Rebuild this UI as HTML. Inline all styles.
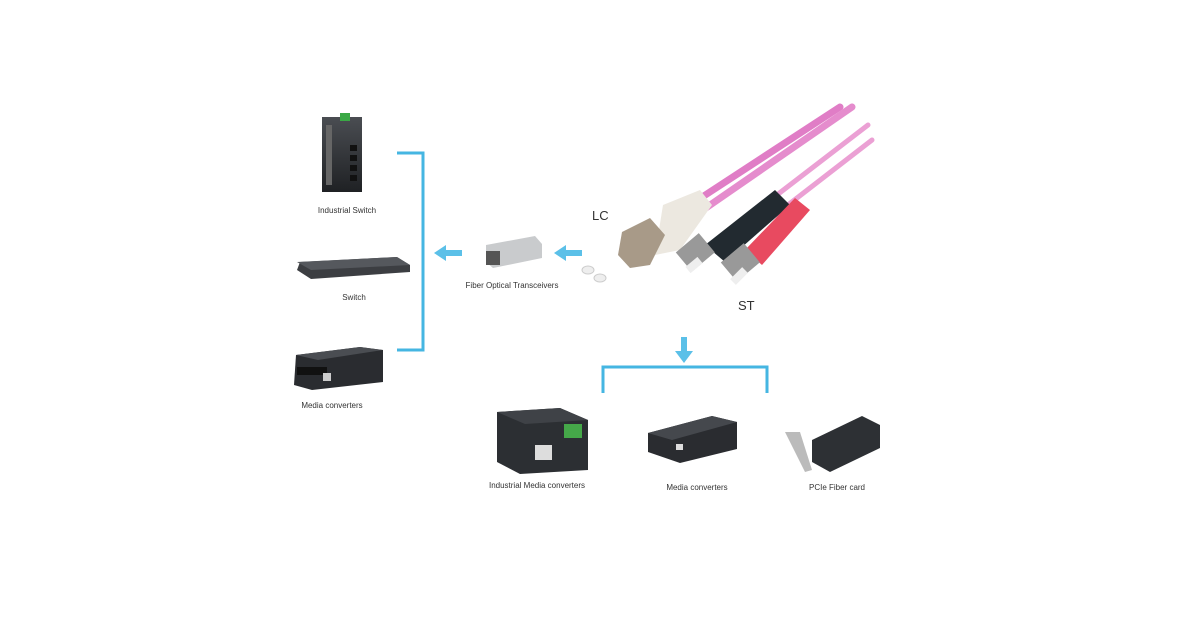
<!DOCTYPE html>
<html><head><meta charset="utf-8"><style>
html,body{margin:0;padding:0;background:#fff;width:1200px;height:630px;overflow:hidden}
svg text{font-family:"Liberation Sans",sans-serif;fill:#333}
</style></head><body>
<svg width="1200" height="630" viewBox="0 0 1200 630" xmlns="http://www.w3.org/2000/svg">
<defs>
<linearGradient id="dk" x1="0" y1="0" x2="0" y2="1"><stop offset="0" stop-color="#4a4d52"/><stop offset="1" stop-color="#1f2124"/></linearGradient>
</defs>
<!-- brackets -->
<g stroke="#45b6e2" stroke-width="3" fill="none">
<polyline points="397,153 423,153 423,350 397,350"/>
<polyline points="603,393 603,367 767,367 767,393"/>
</g>
<!-- arrows -->
<g fill="#5bc0e8">
<polygon points="434,253 446,245 446,250 462,250 462,256 446,256 446,261"/>
<polygon points="554,253 566,245 566,250 582,250 582,256 566,256 566,261"/>
<polygon points="684,363 675,351 681,351 681,337 687,337 687,351 693,351"/>
</g>
<!-- industrial switch -->
<rect x="322" y="117" width="40" height="75" fill="url(#dk)"/>
<rect x="340" y="113" width="10" height="8" fill="#3aa845"/>
<rect x="326" y="125" width="6" height="60" fill="#666"/>
<g fill="#111"><rect x="350" y="145" width="7" height="6"/><rect x="350" y="155" width="7" height="6"/><rect x="350" y="165" width="7" height="6"/><rect x="350" y="175" width="7" height="6"/></g>
<text x="347" y="213" font-size="8" text-anchor="middle">Industrial Switch</text>
<!-- switch -->
<polygon points="300,262 397,257 410,265 410,272 311,279 297,270" fill="#3c3e42"/>
<polygon points="297,262 397,257 410,265 311,270" fill="#55585d"/>
<text x="354" y="300" font-size="8" text-anchor="middle">Switch</text>
<!-- media converter left -->
<polygon points="296,355 360,347 383,350 383,382 312,390 294,385" fill="#2a2c30"/>
<polygon points="296,355 360,347 383,350 318,360" fill="#4a4d52"/>
<rect x="297" y="367" width="30" height="8" fill="#111"/><rect x="323" y="373" width="8" height="8" fill="#ccc"/>
<text x="332" y="408" font-size="8" text-anchor="middle">Media converters</text>
<!-- SFP -->
<polygon points="486,245 535,236 542,244 542,258 493,268 486,262" fill="#c9cbcd"/>
<rect x="486" y="251" width="14" height="14" fill="#555"/>
<text x="512" y="288" font-size="8" text-anchor="middle">Fiber Optical Transceivers</text>
<!-- cables -->
<g stroke-linecap="round" fill="none">
<line x1="690" y1="205" x2="840" y2="107" stroke="#e07dc6" stroke-width="7"/>
<line x1="700" y1="212" x2="852" y2="107" stroke="#e58ccd" stroke-width="7"/>
<line x1="760" y1="208" x2="868" y2="125" stroke="#eba0d4" stroke-width="5"/>
<line x1="775" y1="215" x2="872" y2="140" stroke="#eba0d4" stroke-width="5"/>
</g>
<!-- LC -->
<polygon points="663,205 700,190 712,205 680,250 655,255" fill="#ece8e0"/>
<polygon points="622,232 650,218 665,235 650,265 630,268 618,255" fill="#a89a88"/>
<ellipse cx="588" cy="270" rx="6" ry="4" fill="#eee" stroke="#ccc"/>
<ellipse cx="600" cy="278" rx="6" ry="4" fill="#eee" stroke="#ccc"/>
<text x="592" y="220" font-size="13">LC</text>
<!-- ST -->
<polygon points="705,245 775,190 790,205 725,262" fill="#222a30"/>
<polygon points="745,250 795,198 810,210 762,265" fill="#e84a60"/>
<rect x="680" y="240" width="30" height="25" fill="#999" transform="rotate(-40 695 252)"/>
<rect x="725" y="250" width="30" height="25" fill="#999" transform="rotate(-40 740 262)"/>
<line x1="688" y1="270" x2="700" y2="260" stroke="#eee" stroke-width="8"/>
<line x1="733" y1="282" x2="745" y2="270" stroke="#eee" stroke-width="8"/>
<text x="738" y="310" font-size="13">ST</text>
<!-- industrial media converter -->
<polygon points="497,412 560,408 588,420 588,470 520,474 497,462" fill="#2c2f33"/>
<polygon points="497,412 560,408 588,420 525,424" fill="#3f4247"/>
<rect x="564" y="424" width="18" height="14" fill="#45a849"/>
<rect x="535" y="445" width="17" height="15" fill="#ddd"/>
<text x="537" y="488" font-size="8" text-anchor="middle">Industrial Media converters</text>
<!-- media converter -->
<polygon points="648,433 712,416 737,422 737,449 680,463 648,452" fill="#2a2c30"/>
<polygon points="648,433 712,416 737,422 672,440" fill="#45484d"/>
<rect x="676" y="444" width="7" height="6" fill="#ddd"/>
<text x="697" y="490" font-size="8" text-anchor="middle">Media converters</text>
<!-- PCIe -->
<polygon points="785,432 800,432 812,470 805,472" fill="#bbb"/>
<polygon points="812,440 862,416 880,425 880,448 830,472 812,462" fill="#2d3034"/>
<text x="837" y="490" font-size="8" text-anchor="middle">PCIe Fiber card</text>
</svg>
</body></html>
